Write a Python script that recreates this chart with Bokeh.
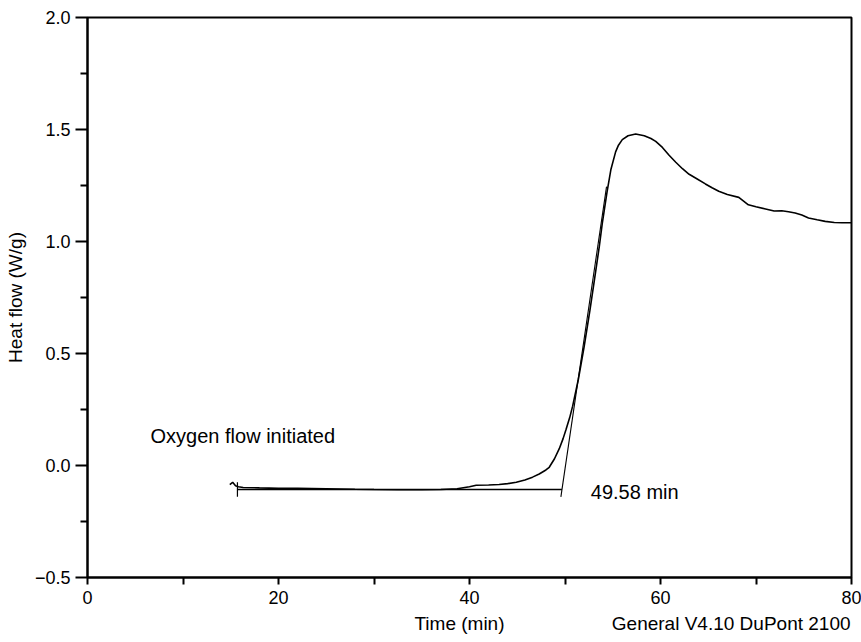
from bokeh.plotting import figure
from bokeh.models import Range1d, FixedTicker, CustomJSTickFormatter, Label, LinearAxis
from bokeh.embed import file_html
from bokeh.resources import INLINE

# --- data ---
time_min = [14.9, 15.2, 15.5, 15.8, 16.3, 18.0, 20.0, 22.0, 25.0, 28.0, 30.0, 32.5, 35.0, 37.0,
            38.7, 40.0, 40.7, 42.0, 43.1, 44.0, 44.9, 45.8, 46.6, 47.3, 48.0, 48.35, 48.9, 49.4,
            49.8, 50.1, 50.5, 50.8, 51.4, 52.0, 52.6, 53.05, 53.6, 53.9, 54.4, 54.8, 55.3, 55.6,
            56.0, 56.6, 57.4, 58.3, 59.0, 59.5, 60.2, 60.9, 61.6, 62.3, 63.0, 63.8, 64.7, 65.4,
            66.1, 67.0, 68.2, 69.2, 70.0, 71.0, 71.9, 72.7, 73.4, 74.1, 74.8, 75.5, 76.4, 77.25,
            78.2, 79.0, 80.0]
heat_flow = [-0.085, -0.075, -0.09, -0.095, -0.098, -0.100, -0.102, -0.102, -0.104, -0.106,
             -0.107, -0.108, -0.108, -0.107, -0.104, -0.095, -0.088, -0.087, -0.085, -0.081,
             -0.075, -0.065, -0.052, -0.038, -0.020, -0.008, 0.030, 0.075, 0.120, 0.160, 0.215,
             0.265, 0.385, 0.530, 0.690, 0.820, 0.980, 1.080, 1.220, 1.320, 1.400, 1.430, 1.455,
             1.472, 1.480, 1.472, 1.460, 1.447, 1.420, 1.385, 1.354, 1.325, 1.300, 1.280, 1.257,
             1.240, 1.224, 1.210, 1.197, 1.164, 1.155, 1.145, 1.136, 1.137, 1.133, 1.127, 1.118,
             1.105, 1.097, 1.090, 1.085, 1.084, 1.084]

baseline_t = [15.7, 49.68]
baseline_v = [-0.107, -0.107]
start_tick_t = [15.7, 15.7]
start_tick_v = [-0.075, -0.14]
tangent_t = [49.57, 54.35]
tangent_v = [-0.14, 1.245]

x_ticks = [0, 20, 40, 60, 80]
x_minor = [10, 30, 50, 70]
y_ticks = [-0.5, 0.0, 0.5, 1.0, 1.5, 2.0]
y_minor = [-0.25, 0.25, 0.75, 1.25, 1.75]

footer_pos = [38.95, 67.4]
footer_text = ["Time (min)", "General V4.10 DuPont 2100"]

FONT = "Liberation Sans"

p = figure(width=861, height=641, x_range=Range1d(0, 80), y_range=Range1d(-0.5, 2.0),
           output_backend="svg", toolbar_location=None,
           min_border_left=87, min_border_right=10, min_border_top=17, min_border_bottom=64)
p.grid.visible = False
p.background_fill_color = "white"
p.border_fill_color = "white"
p.outline_line_color = "black"
p.outline_line_width = 2

# curve and construction lines
p.line(time_min, heat_flow, line_color="black", line_width=1.6)
p.line(baseline_t, baseline_v, line_color="black", line_width=1.6)
p.line(start_tick_t, start_tick_v, line_color="black", line_width=1.2)
p.line(tangent_t, tangent_v, line_color="black", line_width=1.1)

# axes
for ax in (p.xaxis[0], p.yaxis[0]):
    ax.axis_line_color = "black"
    ax.axis_line_width = 2
    ax.major_tick_line_color = "black"
    ax.minor_tick_line_color = "black"
    ax.major_tick_line_width = 2
    ax.minor_tick_line_width = 2
    ax.major_tick_in = 0
    ax.minor_tick_in = 0
    ax.major_label_text_font = FONT
    ax.major_label_text_font_size = "18px"
    ax.major_label_text_color = "black"

p.xaxis.ticker = FixedTicker(ticks=x_ticks, minor_ticks=x_minor)
p.xaxis.major_tick_out = 7
p.xaxis.minor_tick_out = 7
p.xaxis.major_label_standoff = 6

p.yaxis.ticker = FixedTicker(ticks=y_ticks, minor_ticks=y_minor)
p.yaxis.formatter = CustomJSTickFormatter(code="return tick.toFixed(1).replace('-', '\u2212');")
p.yaxis.major_tick_out = 12
p.yaxis.minor_tick_out = 7
p.yaxis.major_label_standoff = 5
p.yaxis.axis_label = "Heat flow (W/g)"
p.yaxis.axis_label_text_font = FONT
p.yaxis.axis_label_text_font_style = "normal"
p.yaxis.axis_label_text_font_size = "19px"
p.yaxis.axis_label_text_color = "black"
p.yaxis.axis_label_standoff = 6

# footer row: "Time (min)" and instrument text, as labels of an extra bottom axis
footer = LinearAxis(ticker=FixedTicker(ticks=footer_pos),
                    major_label_overrides={footer_pos[i]: footer_text[i] for i in range(2)})
footer.axis_line_color = None
footer.major_tick_line_color = None
footer.minor_tick_line_color = None
footer.major_tick_out = 0
footer.minor_tick_out = 0
footer.major_label_standoff = 6
footer.major_label_text_font = FONT
footer.major_label_text_font_size = "19px"
footer.major_label_text_color = "black"
p.add_layout(footer, "below")

# texts in the plot
p.add_layout(Label(x=6.6, y=0.13, text="Oxygen flow initiated", text_font=FONT,
                   text_color="black", text_font_size="20px", text_baseline="middle",
                   text_align="left"))
p.add_layout(Label(x=52.7, y=-0.12, text="49.58 min", text_font=FONT, text_color="black",
                   text_font_size="20px", text_baseline="middle", text_align="left"))

open("out.html", "w").write(file_html(p, INLINE))
